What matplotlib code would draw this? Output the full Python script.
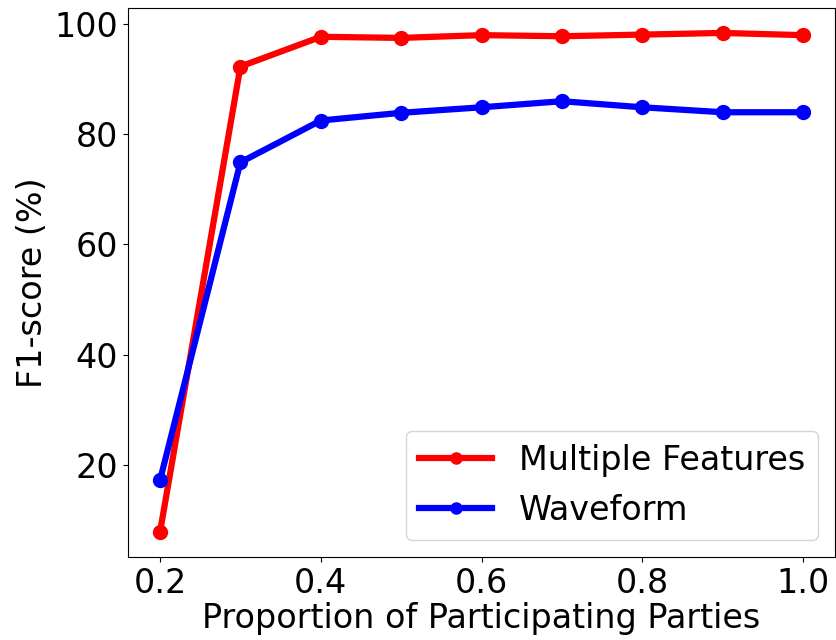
#!/usr/bin/env python3
import matplotlib
matplotlib.use('Agg')
import matplotlib.pyplot as plt

##proportion of participating parties
proportion = [0.2, 0.3, 0.4, 0.5, 0.6, 0.7, 0.8, 0.9, 1.0]
##F1-scores (%) for each feature set
multiple_features = [7.8, 92.3, 97.7, 97.5, 98.0, 97.8, 98.1, 98.4, 98.0]
waveform = [17.2, 74.9, 82.5, 83.9, 84.9, 86.0, 84.9, 84.0, 84.0]

plt.rcParams['font.size'] = 24

fig = plt.figure(figsize=(8.36, 6.4), dpi=100)
ax = fig.add_axes([0.153, 0.130, 0.846, 0.8575])

ax.plot(proportion, multiple_features, color='red', marker='o', linewidth=4.5,
        markersize=10, label='Multiple Features')
ax.plot(proportion, waveform, color='blue', marker='o', linewidth=4.5,
        markersize=10, label='Waveform')

ax.set_xticks([0.2, 0.4, 0.6, 0.8, 1.0])
ax.set_yticks([20, 40, 60, 80, 100])
ax.set_xlabel('Proportion of Participating Parties', labelpad=2)
ax.set_ylabel('F1-score (%)')
ax.legend(loc='lower right', markerscale=0.8, handlelength=2.2)

plt.savefig('out.png', dpi=100)
plt.close()
